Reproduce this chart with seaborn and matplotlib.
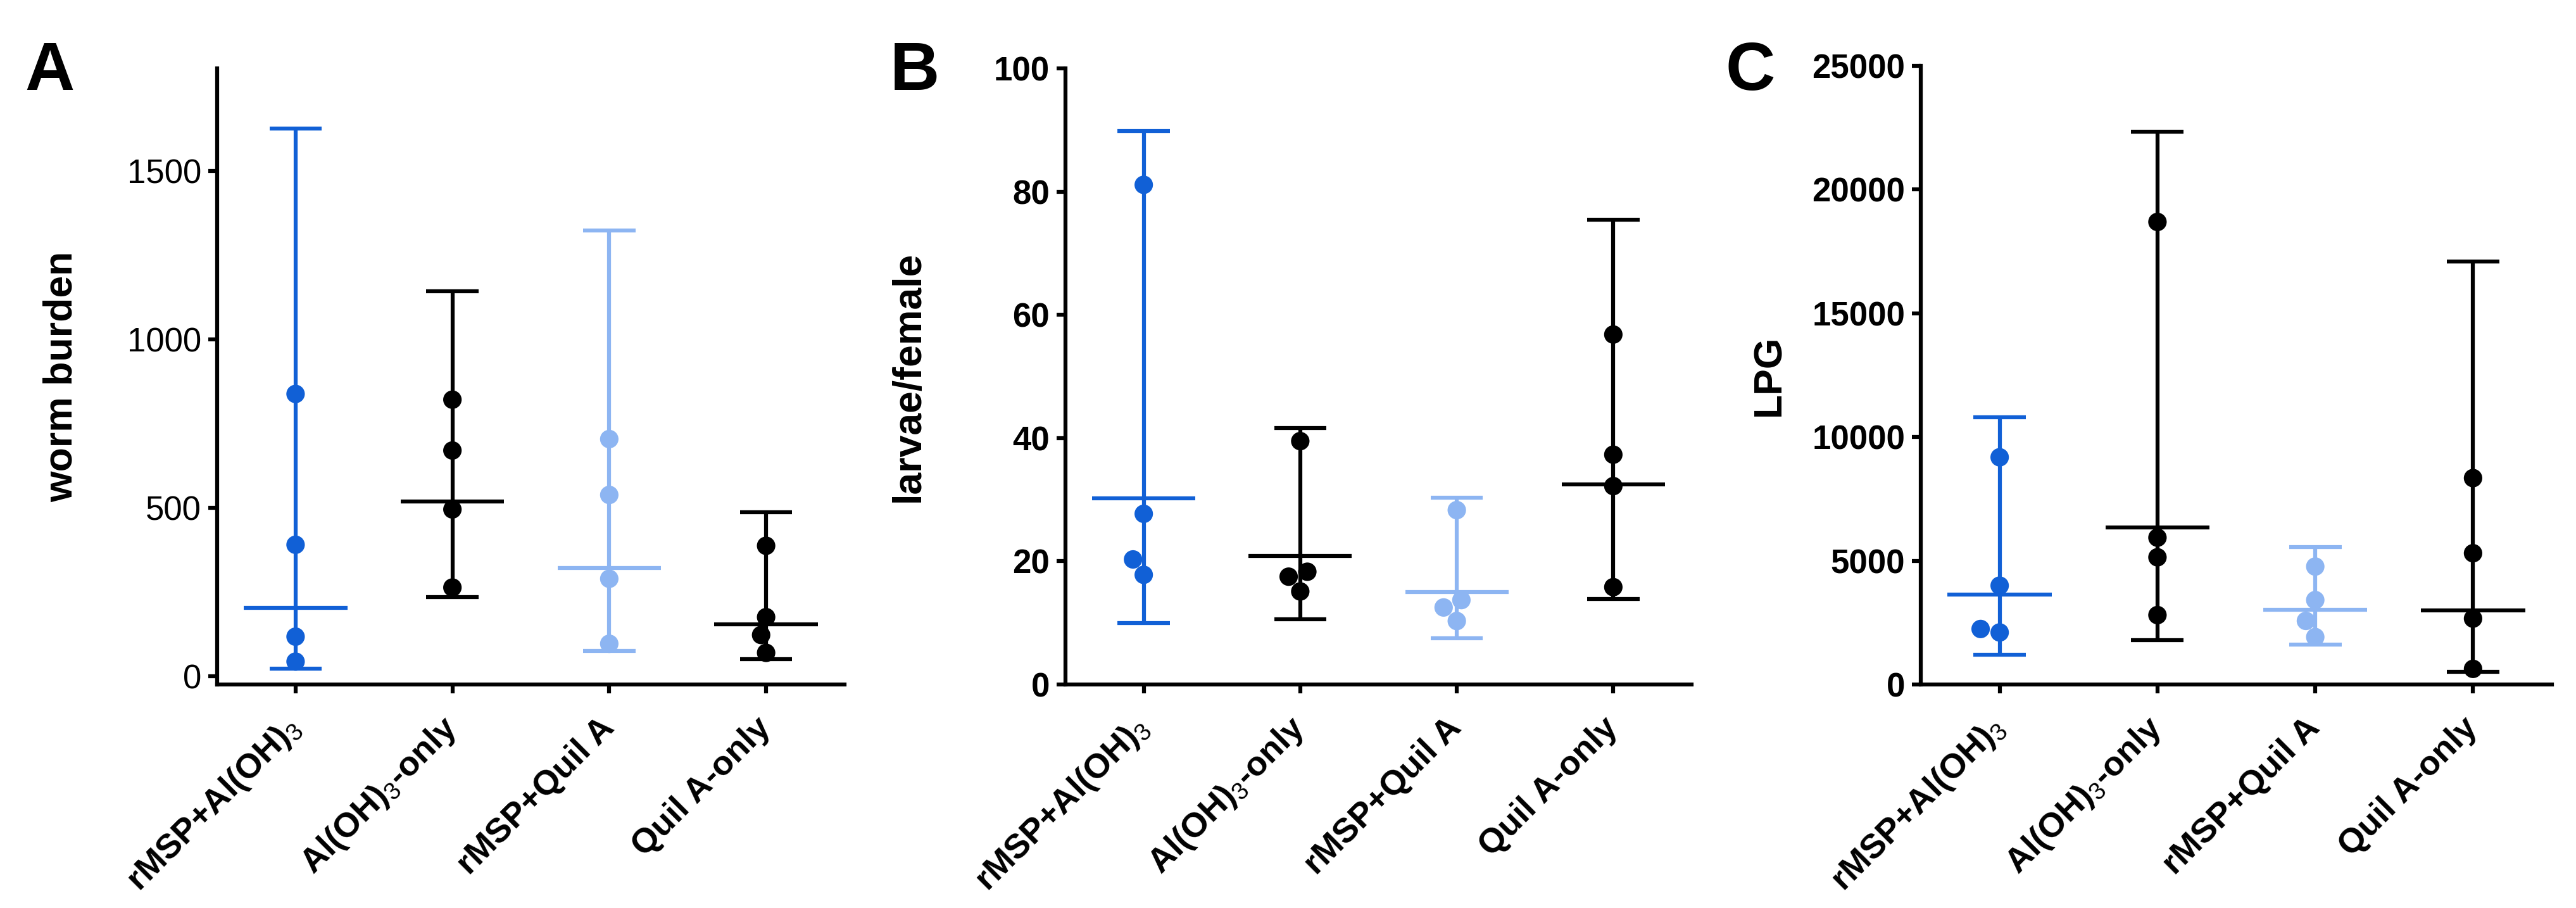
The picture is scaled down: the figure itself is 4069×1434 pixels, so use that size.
import pandas as pd
import matplotlib.pyplot as plt
import seaborn as sns

# group names and tick labels (subscript 3 drawn with mathtext)
groups = ['rMSP+Al(OH)3', 'Al(OH)3-only', 'rMSP+Quil A', 'Quil A-only']
tick_labels = ['rMSP+Al(OH)$_\\mathrm{3}$', 'Al(OH)$_\\mathrm{3}$-only', 'rMSP+Quil A', 'Quil A-only']
group_colors = ['#1160D6', '#000000', '#8DB5F2', '#000000']

# A - worm burden
worm_points = [[838, 390, 117, 43], [821, 670, 495, 263], [704, 538, 289, 96], [387, 175, 122, 69]]
worm_center = [203, 519, 321, 153]
worm_low = [22, 235, 74, 50]
worm_high = [1627, 1143, 1323, 486]

# B - larvae/female
larvae_points = [[81.1, 27.7, 20.3, 17.8], [39.5, 18.3, 17.5, 15.1], [28.3, 13.7, 12.5, 10.3], [56.8, 37.3, 32.2, 15.8]]
larvae_center = [30.2, 20.9, 15.0, 32.5]
larvae_low = [10.0, 10.6, 7.5, 13.9]
larvae_high = [89.8, 41.6, 30.3, 75.4]

# C - LPG
lpg_points = [[9182, 3995, 2243, 2103], [18692, 5935, 5140, 2804], [4766, 3411, 2570, 1916], [8341, 5304, 2664, 631]]
lpg_center = [3645, 6355, 3014, 2991]
lpg_low = [1215, 1799, 1612, 514]
lpg_high = [10794, 22336, 5561, 17103]

sns.set_style('ticks')
plt.rcParams['font.family'] = ['Liberation Sans', 'DejaVu Sans']
plt.rcParams['mathtext.fontset'] = 'custom'
plt.rcParams['mathtext.rm'] = 'Liberation Sans'
plt.rcParams['mathtext.it'] = 'Liberation Sans:italic'
plt.rcParams['mathtext.bf'] = 'Liberation Sans:bold'
for key in ['text.color', 'axes.labelcolor', 'xtick.color', 'ytick.color', 'axes.edgecolor']:
    plt.rcParams[key] = 'black'

W, H = 4069, 1434
fig = plt.figure(figsize=(W / 100, H / 100), dpi=100, facecolor='white')

panels = [
    dict(letter='A', ylabel='worm burden', pts=worm_points, c=worm_center, lo=worm_low, hi=worm_high,
         ylim=(-25, 1805), yticks=[0, 500, 1000, 1500], tickbold=False,
         box=(343, 108, 1334, 1081), letter_x=39, lab_x=-0.218),
    dict(letter='B', ylabel='larvae/female', pts=larvae_points, c=larvae_center, lo=larvae_low, hi=larvae_high,
         ylim=(0, 100), yticks=[0, 20, 40, 60, 80, 100], tickbold=True,
         box=(1683, 108, 2672, 1081), letter_x=1406, lab_x=-0.221),
    dict(letter='C', ylabel='LPG', pts=lpg_points, c=lpg_center, lo=lpg_low, hi=lpg_high,
         ylim=(0, 25000), yticks=[0, 5000, 10000, 15000, 20000, 25000], tickbold=True,
         box=(3034, 104, 4031, 1081), letter_x=2726, lab_x=-0.21),
]

lw = 4.5
for p in panels:
    l, t, r, b = p['box']
    ax = fig.add_axes([l / W, 1 - b / H, (r - l) / W, (b - t) / H])

    df = pd.DataFrame({
        'group': [g for g, vals in zip(groups, p['pts']) for _ in vals],
        'value': [v for vals in p['pts'] for v in vals],
    })
    sns.swarmplot(data=df, x='group', y='value', hue='group', order=groups, hue_order=groups,
                  palette=group_colors, legend=False, size=21, linewidth=0, zorder=3, ax=ax)

    # range bars, caps and centre line
    for i, col in enumerate(group_colors):
        ax.vlines(i, p['lo'][i], p['hi'][i], color=col, lw=lw, zorder=2)
        ax.hlines([p['lo'][i], p['hi'][i]], i - 0.167, i + 0.167, color=col, lw=lw, zorder=2)
        ax.hlines(p['c'][i], i - 0.33, i + 0.33, color=col, lw=lw, zorder=2)

    ax.set_xlim(-0.5, 3.5)
    ax.set_ylim(*p['ylim'])
    ax.set_yticks(p['yticks'])
    ax.set_xticks(range(len(groups)))
    ax.set_xticklabels(tick_labels, rotation=45, ha='right', va='center', rotation_mode='anchor',
                       fontsize=39, fontweight='bold')
    for lab in ax.get_yticklabels():
        lab.set_fontsize(38)
        lab.set_fontweight('bold' if p['tickbold'] else 'normal')
    ax.tick_params(axis='both', width=lw, length=10, color='black')
    ax.tick_params(axis='x', pad=34)
    ax.tick_params(axis='y', pad=8)
    for s in ['left', 'bottom']:
        ax.spines[s].set_linewidth(lw)
        ax.spines[s].set_color('black')
    for s in ['top', 'right']:
        ax.spines[s].set_visible(False)

    ax.set_xlabel('')
    ax.set_ylabel(p['ylabel'], fontsize=45, fontweight='bold')
    ax.yaxis.set_label_coords(p['lab_x'], 0.5)

    fig.text(p['letter_x'] / W, 1 - 142 / H, p['letter'], fontsize=78, fontweight='bold',
             ha='left', va='baseline')

plt.savefig('out.png', dpi=100, facecolor='white')
